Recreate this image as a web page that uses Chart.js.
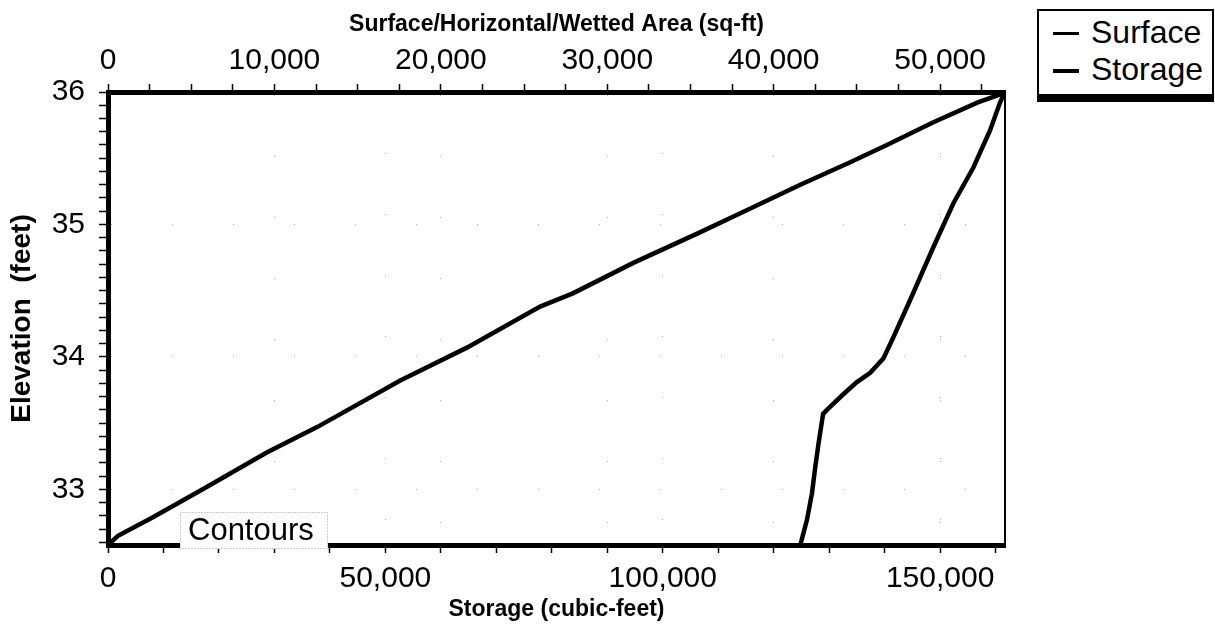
<!DOCTYPE html>
<html>
<head>
<meta charset="utf-8">
<script src="https://cdn.jsdelivr.net/npm/chart.js@4.4.0/dist/chart.umd.min.js"></script>
<style>
body{margin:0;background:#fff;}
#wrap{position:relative;width:1215px;height:633px;}
#legend{position:absolute;left:1037px;top:9px;width:173px;height:83px;border:2px solid #000;border-bottom-width:8px;background:#fff;
  font-family:"Liberation Sans",Arial,sans-serif;font-size:32px;color:#000;}
#legend div{position:relative;height:37px;line-height:37px;padding-left:52px;}
#legend span{position:absolute;left:14px;top:18px;width:26px;height:4px;background:#000;}
</style>
</head>
<body>
<div id="wrap">
<canvas id="chart" width="1215" height="633"></canvas>
<div id="legend">
  <div style="margin-top:3px"><span style="height:3px"></span>Surface</div>
  <div><span></span>Storage</div>
</div>
</div>
<script>
// storage (cubic-feet) vs elevation
var storageVol  = [0, 1800, 8100, 16600, 28700, 37700, 52600, 64700, 77900, 83800, 94700, 106700, 115800, 124800, 133800, 140400, 148700, 156700, 161400, 161700]
var storageElev = [32.58, 32.65, 32.79, 32.99, 33.28, 33.47, 33.82, 34.07, 34.38, 34.48, 34.71, 34.94, 35.12, 35.30, 35.47, 35.60, 35.77, 35.92, 35.99, 36.0]

// surface area (sq-ft) vs elevation
var surfaceArea = [41600, 42000, 42300, 42500, 42700, 42970, 43200, 44200, 45000, 45800, 46600, 47200, 48200, 49600, 50800, 52000, 53000, 53600, 53900]
var surfaceElev = [32.58, 32.77, 32.97, 33.17, 33.35, 33.57, 33.60, 33.72, 33.81, 33.88, 33.99, 34.15, 34.43, 34.83, 35.16, 35.43, 35.71, 35.92, 36.0]

// tick positions (labels only on the round ones)
var storageTicks = [0, 10000, 20000, 30000, 40000, 50000, 60000, 70000, 80000, 90000, 100000, 110000, 120000, 130000, 140000, 150000, 160000]
var storageLabels = [0, 50000, 100000, 150000]
var areaTicks = [0, 2500, 5000, 7500, 10000, 12500, 15000, 17500, 20000, 22500, 25000, 27500, 30000, 32500, 35000, 37500, 40000, 42500, 45000, 47500, 50000, 52500]
var areaLabels = [0, 10000, 20000, 30000, 40000, 50000]
var elevTicks = [32.6, 32.7, 32.8, 32.9, 33, 33.1, 33.2, 33.3, 33.4, 33.5, 33.6, 33.7, 33.8, 33.9, 34, 34.1, 34.2, 34.3, 34.4, 34.5, 34.6, 34.7, 34.8, 34.9, 35, 35.1, 35.2, 35.3, 35.4, 35.5, 35.6, 35.7, 35.8, 35.9, 36]
var elevLabels = [33, 34, 35, 36]

var fnt = '"Liberation Sans", Arial, sans-serif'

function pts(xs, ys){
    return xs.map(function(x, i){ return {x: x, y: ys[i]} })
}
function setTicks(list){
    return function(s){ s.ticks = list.map(function(v){ return {value: v} }) }
}
function labelIf(list){
    return function(v){ return list.indexOf(v) >= 0 ? v.toLocaleString('en-US') : '' }
}
function gridIf(list, skip){
    return function(c){ return c.tick && list.indexOf(c.tick.value) >= 0 && c.tick.value !== skip ? '#b0b0b0' : 'transparent' }
}

var extras = {
    id: 'extras',
    afterDraw: function(chart){
        var ctx = chart.ctx, a = chart.chartArea
        ctx.save()
        ctx.strokeStyle = '#000'
        ctx.lineWidth = 2
        ctx.beginPath()
        ctx.moveTo(a.right, a.top)
        ctx.lineTo(a.right, a.bottom)
        ctx.stroke()
        // Contours label over the bottom axis
        ctx.fillStyle = '#fff'
        ctx.fillRect(a.left + 72, a.bottom - 33, 148, 37)
        ctx.strokeStyle = '#999'
        ctx.lineWidth = 1
        ctx.setLineDash([1, 2])
        ctx.strokeRect(a.left + 72.5, a.bottom - 32.5, 147, 36)
        ctx.fillStyle = '#000'
        ctx.font = '31px ' + fnt
        ctx.textBaseline = 'middle'
        ctx.fillText('Contours', a.left + 80, a.bottom - 14)
        ctx.restore()
    }
}

var ctx = document.getElementById('chart')

var grafico = new Chart(ctx, {
    type: 'scatter',
    data: {
        datasets: [
            {label: 'Surface', data: pts(surfaceArea, surfaceElev), xAxisID: 'x2', yAxisID: 'y',
             showLine: true, borderColor: '#000', borderWidth: 4.5, pointRadius: 0},
            {label: 'Storage', data: pts(storageVol, storageElev), xAxisID: 'x', yAxisID: 'y',
             showLine: true, borderColor: '#000', borderWidth: 4.5, pointRadius: 0}
        ]
    },
    options: {
        responsive: false,
        animation: false,
        layout: {padding: {left: 0, right: 210, top: 0, bottom: 0}},
        plugins: {legend: {display: false}, tooltip: {enabled: false}},
        scales: {
            x: {
                type: 'linear', position: 'bottom', min: 0, max: 161700,
                afterBuildTicks: setTicks(storageTicks),
                afterFit: function(s){ s.height = 88 },
                ticks: {autoSkip: false, maxRotation: 0, color: '#000', padding: 8,
                        font: {family: fnt, size: 30}, callback: labelIf(storageLabels)},
                grid: {tickLength: 8, tickColor: '#000', tickWidth: 1.5, color: gridIf(storageLabels, 0)},
                border: {color: '#000', width: 5, dash: [1, 60]},
                title: {display: true, text: 'Storage (cubic-feet)', color: '#000', padding: {top: 0, bottom: 10},
                        font: {family: fnt, size: 23, weight: 'bold'}}
            },
            x2: {
                type: 'linear', position: 'top', min: 0, max: 53900,
                afterBuildTicks: setTicks(areaTicks),
                afterFit: function(s){ s.height = 92 },
                ticks: {autoSkip: false, maxRotation: 0, color: '#000', padding: 5,
                        font: {family: fnt, size: 30}, callback: labelIf(areaLabels)},
                grid: {tickLength: 8, tickColor: '#000', tickWidth: 1.5, color: gridIf(areaLabels, 0)},
                border: {color: '#000', width: 5, dash: [1, 60]},
                title: {display: true, text: 'Surface/Horizontal/Wetted Area (sq-ft)', color: '#000', padding: {top: 11, bottom: 0},
                        font: {family: fnt, size: 23, weight: 'bold'}}
            },
            y: {
                type: 'linear', position: 'left', min: 32.58, max: 36,
                afterBuildTicks: setTicks(elevTicks),
                afterFit: function(s){ s.width = 108 },
                ticks: {autoSkip: false, color: '#000', padding: 14,
                        font: {family: fnt, size: 30}, callback: labelIf(elevLabels)},
                grid: {tickLength: 9, tickColor: '#000', tickWidth: 1.5, color: gridIf(elevLabels, 36)},
                border: {color: '#000', width: 5, dash: [1, 60]},
                title: {display: true, text: 'Elevation  (feet)', color: '#000', padding: {top: 5, bottom: 0},
                        font: {family: fnt, size: 28, weight: 'bold'}}
            }
        }
    },
    plugins: [extras]
})
</script>
</body>
</html>
